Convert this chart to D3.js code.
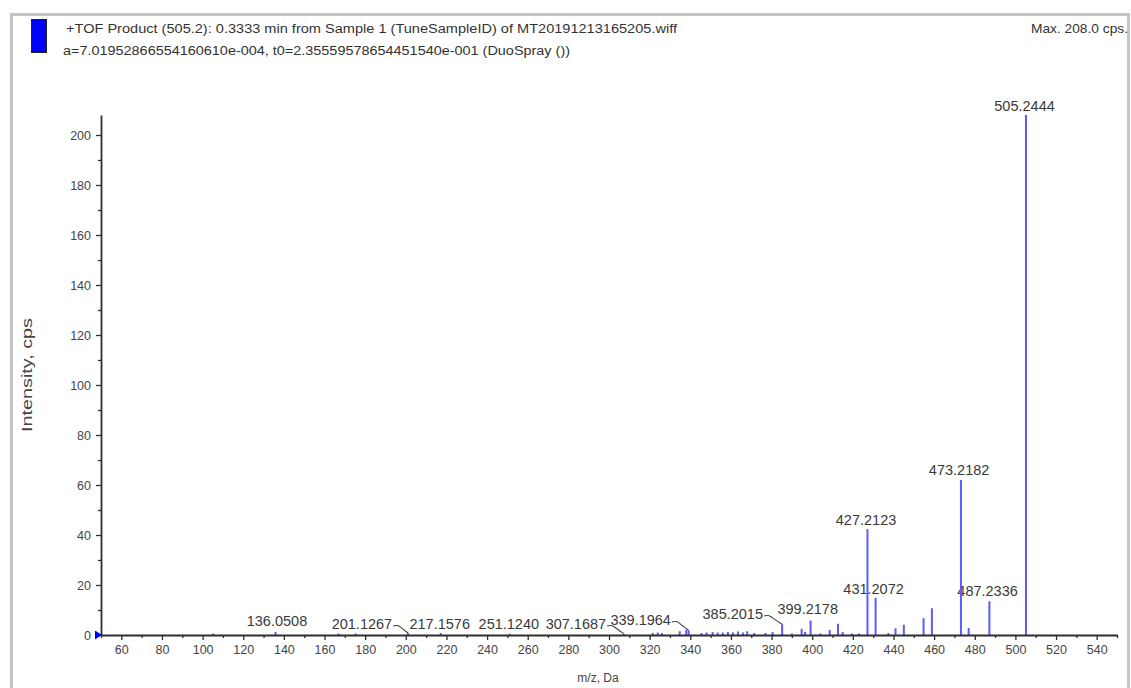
<!DOCTYPE html>
<html><head><meta charset="utf-8">
<script src="https://cdn.jsdelivr.net/npm/d3@7"></script>
<style>
body{margin:0;background:#fff}
svg{display:block}
text{font-family:"Liberation Sans",Arial,sans-serif}
</style>
</head><body>
<svg id="c" width="1131" height="688"></svg>
<script>
// ---------------- data ----------------
const titleLines = [
  "+TOF Product (505.2): 0.3333 min from Sample 1 (TuneSampleID) of MT20191213165205.wiff",
  "a=7.01952866554160610e-004, t0=2.35559578654451540e-001 (DuoSpray ())"
];
const maxLabel = "Max. 208.0 cps.";
const xTitle = "m/z, Da";
const yTitle = "Intensity, cps";
const xDomain = [50, 550];
const yDomain = [0, 208];
const xTicks = d3.range(60, 541, 20);
const xMinorTicks = d3.range(50, 551, 10).filter(v => v % 20 !== 0);
const yTicks = d3.range(0, 201, 20);
const yMinorTicks = d3.range(10, 201, 20);

// centroided peaks (m/z, intensity)
const peakMz  = [105.2, 135.9, 166.9, 175.3, 201.1, 217.2, 251.1, 307.2, 321.5, 324.0, 326.0, 334.8, 338.0, 339.2,
                 345.5, 348.0, 351.0, 353.5, 356.0, 358.5, 361.0, 363.5, 366.0, 368.0, 371.5, 377.0, 380.5, 385.2,
                 390.0, 394.8, 396.5, 399.2, 404.0, 408.6, 412.7, 415.0, 419.5, 423.0, 427.2, 431.2, 437.5, 441.0,
                 445.1, 454.8, 458.9, 473.2, 477.0, 487.2, 505.2];
const peakInt = [0.6, 1.2, 0.6, 0.6, 0.8, 0.8, 0.5, 0.6, 0.8, 1.0, 0.8, 1.5, 2.0, 1.8,
                 0.8, 1.0, 1.2, 1.0, 1.0, 1.2, 1.0, 1.4, 1.0, 1.5, 0.8, 0.8, 1.2, 4.3,
                 0.6, 2.5, 1.2, 5.8, 0.6, 2.0, 4.5, 1.2, 0.6, 0.6, 42.3, 14.8, 0.8, 2.7,
                 4.1, 6.7, 10.7, 62.0, 2.8, 13.5, 208.0];

// peak annotations: text, peak position, label anchor (data units)
const labelText  = ["136.0508","201.1267","217.1576","251.1240","307.1687","339.1964","385.2015",
                    "399.2178","427.2123","431.2072","473.2182","487.2336","505.2444"];
const labelPeakMz  = [135.9, 201.1, 217.2, 251.1, 307.2, 339.2, 385.2, 399.2, 427.2, 431.2, 473.2, 487.2, 505.2];
const labelPeakInt = [1.2, 0.8, 0.8, 0.5, 0.6, 1.8, 4.3, 5.8, 42.3, 14.8, 62.0, 13.5, 208.0];
const labelMz    = [136.6, 178.4, 216.7, 250.7, 283.7, 315.6, 360.9, 397.8, 426.5, 430.2, 472.3, 486.3, 504.5];
const labelLevel = [3.6, 2.4, 2.4, 2.4, 2.4, 4.0, 6.4, 8.4, 44.0, 16.4, 64.0, 15.6, 209.6];

// ---------------- drawing ----------------
const svg = d3.select("#c");
const W = 1131, H = 688;
const plot = {left: 101, right: 1117, top: 115, bottom: 635};

const x = d3.scaleLinear().domain(xDomain).range([plot.left, plot.right]);
const y = d3.scaleLinear().domain(yDomain).range([plot.bottom, plot.top]);

svg.append("rect").attr("width", W).attr("height", H).attr("fill", "#fff");
// window frame
svg.append("rect").attr("x", 11.5).attr("y", 14.5).attr("width", 1117).attr("height", 690)
  .attr("fill", "none").attr("stroke", "#c4c4c4").attr("stroke-width", 3);

// legend swatch
svg.append("rect").attr("x", 31.5).attr("y", 19.5).attr("width", 15).attr("height", 33)
  .attr("fill", "#0000ff").attr("stroke", "#222").attr("stroke-width", 1);

// header text
const hdr = svg.append("g").attr("fill", "#333").attr("font-size", 12.5);
hdr.append("text").attr("x", 66).attr("y", 33).attr("textLength", 611)
  .attr("lengthAdjust", "spacingAndGlyphs").text(titleLines[0]);
hdr.append("text").attr("x", 63).attr("y", 55).attr("textLength", 507)
  .attr("lengthAdjust", "spacingAndGlyphs").text(titleLines[1]);
hdr.append("text").attr("x", 1031).attr("y", 33).attr("textLength", 97)
  .attr("lengthAdjust", "spacingAndGlyphs").attr("font-size", 13).text(maxLabel);

// axes
const axisColor = "#2e2e2e";
const gx = svg.append("g").attr("transform", `translate(0,${plot.bottom})`)
  .call(d3.axisBottom(x).tickValues(xTicks).tickSize(5).tickSizeOuter(0).tickPadding(5));
const gxMinor = svg.append("g").attr("transform", `translate(0,${plot.bottom})`)
  .call(d3.axisBottom(x).tickValues(xMinorTicks).tickSize(3).tickSizeOuter(0).tickFormat(""));
gxMinor.select(".domain").remove();

const gy = svg.append("g").attr("transform", `translate(${plot.left},0)`)
  .call(d3.axisLeft(y).tickValues(yTicks).tickSize(5).tickSizeOuter(0).tickPadding(5));
const gyMinor = svg.append("g").attr("transform", `translate(${plot.left},0)`)
  .call(d3.axisLeft(y).tickValues(yMinorTicks).tickSize(3).tickSizeOuter(0).tickFormat(""));
gyMinor.select(".domain").remove();

[gx, gxMinor, gy, gyMinor].forEach(g => {
  g.selectAll(".domain").attr("stroke", axisColor).attr("stroke-width", 1.8);
  g.selectAll(".tick line").attr("stroke", axisColor).attr("stroke-width", 1.3);
  g.selectAll(".tick text").attr("fill", "#444").attr("font-size", 12.5)
    .attr("font-family", '"Liberation Sans", Arial, sans-serif');
});

// axis titles
svg.append("text").attr("x", 598).attr("y", 682).attr("text-anchor", "middle")
  .attr("font-size", 12).attr("fill", "#444").text(xTitle);
svg.append("text").attr("transform", `translate(32,375) rotate(-90)`).attr("x", -57)
  .attr("textLength", 114).attr("lengthAdjust", "spacingAndGlyphs")
  .attr("font-size", 15).attr("fill", "#444").text(yTitle);

// origin marker
svg.append("path")
  .attr("d", d3.line()([[x(xDomain[0]) - 6, y(0) - 4.5], [x(xDomain[0]) - 6, y(0) + 4.5], [x(xDomain[0]) + 1, y(0)]]) + "Z")
  .attr("fill", "#0000ff");

// peak labels
const fs = 14.5;
const lbl = svg.append("g").attr("font-size", fs).attr("fill", "#3a3a3a");
labelText.forEach((t, i) => {
  const tx = lbl.append("text").attr("x", x(labelMz[i])).attr("y", y(labelLevel[i]))
    .attr("text-anchor", "middle").text(t);
  const dxPix = x(labelPeakMz[i]) - x(labelMz[i]);
  if (Math.abs(dxPix) > 10) {
    const w = tx.node().getComputedTextLength();
    const x0 = x(labelMz[i]) + w / 2 + 1;
    const y0 = y(labelLevel[i]) - 3;
    const px = x(labelPeakMz[i]), py = y(labelPeakInt[i]);
    svg.append("path")
      .attr("d", d3.line().curve(d3.curveBasis)([[x0, y0], [x0 + 5, y0 - 1], [x0 + 7, y0 + 1], [px, py]]))
      .attr("fill", "none").attr("stroke", "#444").attr("stroke-width", 1.1);
  }
});

// peaks (drawn over labels)
svg.append("g").selectAll("line").data(peakMz).join("line")
  .attr("x1", d => x(d)).attr("x2", d => x(d))
  .attr("y1", y(0)).attr("y2", (d, i) => y(peakInt[i]))
  .attr("stroke", "#5a5aff").attr("stroke-width", 2);

// redraw baseline on top
gx.raise();
</script>
</body></html>
